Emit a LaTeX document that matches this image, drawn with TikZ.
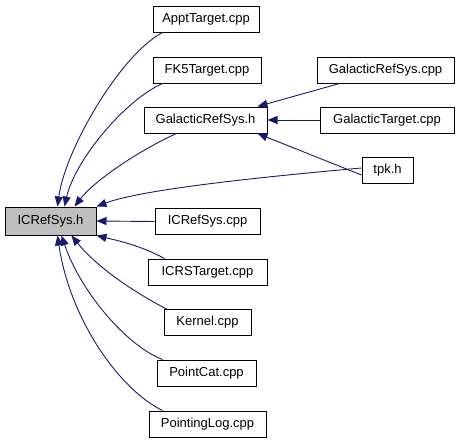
\documentclass[tikz,border=0pt]{standalone}
\usepackage{fontspec}
\setmainfont{Liberation Sans}
\usetikzlibrary{arrows.meta}
\definecolor{edgeblue}{HTML}{191970}
\definecolor{boxgray}{HTML}{BFBFBF}
\tikzset{
  filebox/.style={draw=black, line width=1pt, fill=white, minimum height=26pt, inner sep=0pt, font=\fontsize{13}{15}\selectfont},
  edge/.style={draw=edgeblue, line width=0.9pt, {Triangle[length=10pt,width=8pt]}-},
}
\begin{document}
\begin{tikzpicture}[x=1pt,y=-1pt]
\useasboundingbox (0,0) rectangle (461,442);
\node[filebox, fill=boxgray, minimum width=91pt, minimum height=28pt] (ic) at (50.5,221) {ICRefSys.h};
\node[filebox, minimum width=106pt] (appt) at (206,19) {ApptTarget.cpp};
\node[filebox, minimum width=108pt] (fk5) at (207,70) {FK5Target.cpp};
\node[filebox, minimum width=123pt] (grs) at (205.5,120) {GalacticRefSys.h};
\node[filebox, minimum width=137pt] (gcpp) at (385.5,70) {GalacticRefSys.cpp};
\node[filebox, minimum width=134pt] (gt) at (387,120) {GalacticTarget.cpp};
\node[filebox, minimum width=51pt] (tpk) at (387.5,170) {tpk.h};
\node[filebox, minimum width=105pt] (icc) at (207.5,221.5) {ICRefSys.cpp};
\node[filebox, minimum width=119pt] (icrs) at (207.5,272) {ICRSTarget.cpp};
\node[filebox, minimum width=87pt] (kern) at (207.5,322.5) {Kernel.cpp};
\node[filebox, minimum width=99pt] (pc) at (206.5,373) {PointCat.cpp};
\node[filebox, minimum width=117pt] (pl) at (207.5,424) {PointingLog.cpp};

% edges into ICRefSys.h
\draw[edge] ([xshift=53pt]ic.north west) .. controls (65,150) and (120,55) .. ([xshift=10pt]appt.south west);
\draw[edge] ([xshift=60pt]ic.north west) .. controls (75,160) and (125,100) .. ([xshift=10pt]fk5.south west);
\draw[edge] ([xshift=70pt]ic.north west) .. controls (95,180) and (140,150) .. ([xshift=33pt]grs.south west);
\draw[edge] (ic.north east) .. controls (140,190) and (250,178) .. ([yshift=2pt]tpk.west);
\draw[edge] (ic.east) -- (icc.west);
\draw[edge] (ic.south east) .. controls (115,240) and (140,245) .. ([xshift=17pt]icrs.north west);
\draw[edge] ([xshift=67pt]ic.south west) .. controls (95,265) and (130,290) .. ([xshift=3pt]kern.north west);
\draw[edge] ([xshift=57pt]ic.south west) .. controls (80,290) and (125,345) .. ([xshift=6pt]pc.north west);
\draw[edge] ([xshift=53pt]ic.south west) .. controls (70,320) and (120,390) .. ([xshift=14pt]pl.north west);

% edges into GalacticRefSys.h
\draw[edge] ([xshift=-10pt]grs.north east) -- ([xshift=23pt]gcpp.south west);
\draw[edge] (grs.east) -- (gt.west);
\draw[edge] ([xshift=-10pt]grs.south east) -- ([yshift=-5pt]tpk.west);
\end{tikzpicture}
\end{document}
